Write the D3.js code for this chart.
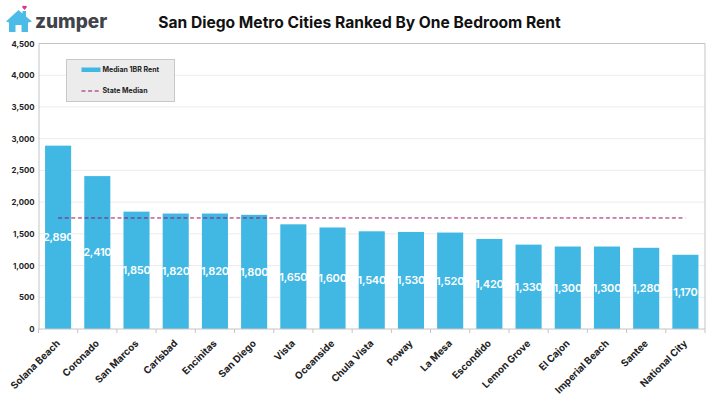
<!DOCTYPE html>
<html>
<head>
<meta charset="utf-8">
<script src="https://cdnjs.cloudflare.com/ajax/libs/d3/7.8.5/d3.min.js"></script>
<style>
html, body { margin: 0; padding: 0; background: #fff; }
svg { display: block; }
text { font-family: Inter, "Open Sans", sans-serif; }
</style>
</head>
<body>
<svg id="chart" width="720" height="405"></svg>
<script>
const cities = ["Solana Beach", "Coronado", "San Marcos", "Carlsbad", "Encinitas", "San Diego", "Vista", "Oceanside", "Chula Vista", "Poway", "La Mesa", "Escondido", "Lemon Grove", "El Cajon", "Imperial Beach", "Santee", "National City"];
const rents = [2890, 2410, 1850, 1820, 1820, 1800, 1650, 1600, 1540, 1530, 1520, 1420, 1330, 1300, 1300, 1280, 1170];
const stateMedian = [1750, 1750, 1750, 1750, 1750, 1750, 1750, 1750, 1750, 1750, 1750, 1750, 1750, 1750, 1750, 1750, 1750];
const yTicks = [0, 500, 1000, 1500, 2000, 2500, 3000, 3500, 4000, 4500];
const seriesNames = ["Median 1BR Rent", "State Median"];
const titleText = "San Diego Metro Cities Ranked By One Bedroom Rent";
const brandName = "zumper";

const barColor = "#41b8e4", medianColor = "#9c0f66", axisColor = "#c4c4c4", gridColor = "#ececec";
const margin = { left: 38.5, right: 15, top: 43.5, bottom: 76 };
const width = 720, height = 405;

const svg = d3.select("#chart");
const x = d3.scaleBand().domain(cities).range([margin.left, width - margin.right]).paddingInner(0.335).paddingOuter(0.1675);
const y = d3.scaleLinear().domain([0, 4500]).range([height - margin.bottom, margin.top]);

// Horizontal gridlines
svg.append("g").selectAll("line").data(yTicks.filter(d => d > 0)).join("line")
  .attr("x1", margin.left).attr("x2", width - margin.right)
  .attr("y1", d => y(d)).attr("y2", d => y(d))
  .attr("stroke", d => d === 4500 ? axisColor : gridColor)
  .attr("stroke-width", 1);

// Right-hand frame edge
svg.append("line")
  .attr("x1", width - margin.right).attr("x2", width - margin.right)
  .attr("y1", margin.top).attr("y2", y(0))
  .attr("stroke", axisColor).attr("stroke-width", 1);

// Bars
svg.append("g").selectAll("rect").data(cities).join("rect")
  .attr("x", d => x(d))
  .attr("width", x.bandwidth())
  .attr("y", (d, i) => y(rents[i]))
  .attr("height", (d, i) => y(0) - y(rents[i]))
  .attr("fill", barColor);

// Value axis
const yAxis = d3.axisLeft(y).tickValues(yTicks).tickFormat(d3.format(",")).tickSize(0).tickPadding(4);
const yG = svg.append("g").attr("transform", `translate(${margin.left},0)`).call(yAxis);
yG.select(".domain").attr("stroke", axisColor).attr("stroke-width", 1);
yG.selectAll("text").attr("font-size", 7.8).attr("font-weight", 700).attr("fill", "#222");

// Category axis, with ticks on the band edges
const edges = d3.range(cities.length + 1).map(i => margin.left + i * x.step());
svg.append("g").selectAll("line").data(edges).join("line")
  .attr("x1", d => d).attr("x2", d => d)
  .attr("y1", y(0)).attr("y2", y(0) + 4)
  .attr("stroke", axisColor).attr("stroke-width", 1);
svg.append("line")
  .attr("x1", margin.left).attr("x2", width - margin.right)
  .attr("y1", y(0)).attr("y2", y(0))
  .attr("stroke", axisColor).attr("stroke-width", 1);

svg.append("g").selectAll("text").data(cities).join("text")
  .attr("transform", d => `translate(${x(d) + x.bandwidth() / 2 + 2.5},${y(0) + 15}) rotate(-45)`)
  .attr("text-anchor", "end")
  .attr("font-size", 9.8).attr("font-weight", 700).attr("fill", "#222")
  .text(d => d);

// State median reference line
const medianLine = d3.line().x(d => x(d) + x.bandwidth() / 2).y((d, i) => y(stateMedian[i]));
svg.append("path").attr("d", medianLine(cities))
  .attr("fill", "none").attr("stroke", medianColor).attr("stroke-width", 1).attr("stroke-dasharray", "4 2.6");

// Value labels centred in each bar
svg.append("g").selectAll("text").data(cities).join("text")
  .attr("x", d => x(d) + x.bandwidth() / 2)
  .attr("y", (d, i) => y(rents[i] / 2))
  .attr("dy", "0.35em")
  .attr("text-anchor", "middle")
  .attr("font-size", 11).attr("font-weight", 600).attr("letter-spacing", -0.2).attr("fill", "#fff")
  .text((d, i) => d3.format(",")(rents[i]));

// Legend
const legend = svg.append("g").attr("transform", "translate(66.5,59.5)");
legend.append("rect").attr("width", 108).attr("height", 42)
  .attr("fill", "#ececec").attr("stroke", "#c8c8c8").attr("stroke-width", 1);
legend.append("rect").attr("x", 15).attr("y", 8).attr("width", 19).attr("height", 4.5).attr("fill", barColor);
legend.append("line").attr("x1", 15).attr("x2", 34).attr("y1", 31.5).attr("y2", 31.5)
  .attr("stroke", medianColor).attr("stroke-width", 1).attr("stroke-dasharray", "4 2.6");
legend.selectAll("text").data(seriesNames).join("text")
  .attr("x", 36).attr("y", (d, i) => i === 0 ? 10.5 : 31.5).attr("dy", "0.35em")
  .attr("font-size", 7).attr("font-weight", 700).attr("fill", "#222")
  .text(d => d);

// Title
svg.append("text").attr("x", 359.5).attr("y", 28).attr("text-anchor", "middle")
  .attr("font-size", 15.6).attr("font-weight", 700).attr("fill", "#111")
  .text(titleText);

// Brand mark: house with a small heart above the chimney
const brand = svg.append("g");
brand.append("path")
  .attr("d", "M6 21.5 L18.5 10 L22.5 13.5 L22.5 11 L26 11 L26 16.5 L32 21.5 L28 22.5 L28 32 L21.5 32 L21.5 25 L15.5 25 L15.5 32 L9 32 L9 22.5 Z")
  .attr("fill", "#4dbbe8");
brand.append("path")
  .attr("d", "M24.5 10 L22.2 7.2 A1.4 1.4 0 0 1 24.5 6 A1.4 1.4 0 0 1 26.8 7.2 Z")
  .attr("fill", "#e0338f");
brand.append("text").attr("x", 35).attr("y", 28)
  .attr("font-size", 19).attr("font-weight", 800).attr("fill", "#3f434a")
  .text(brandName);
</script>
</body>
</html>
